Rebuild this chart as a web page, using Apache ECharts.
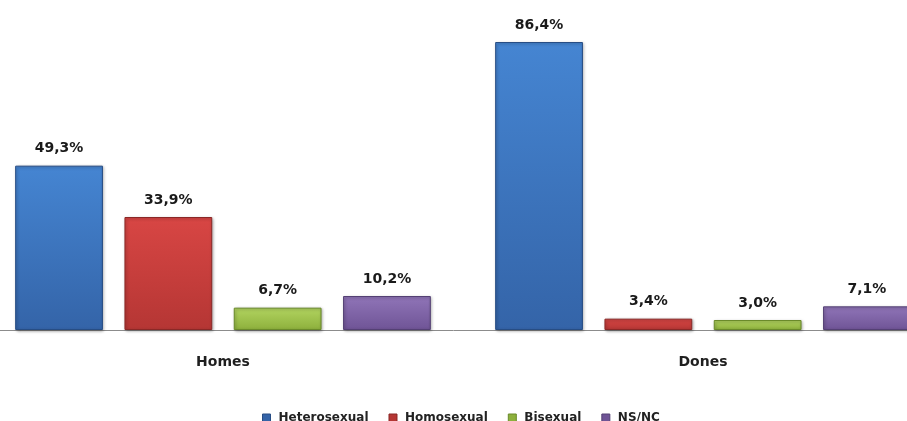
<!DOCTYPE html>
<html>
<head>
<meta charset="utf-8">
<script src="https://cdn.jsdelivr.net/npm/echarts@6/dist/echarts.min.js"></script>
<style>
  html, body { margin: 0; padding: 0; background: #fff; }
  #main { width: 907px; height: 421px; }
</style>
</head>
<body>
<div id="main"></div>
<script>
var categories = ['Homes', 'Dones'];
var seriesNames = ['Heterosexual', 'Homosexual', 'Bisexual', 'NS/NC'];
var heterosexual = [49.3, 86.4];
var homosexual = [33.9, 3.4];
var bisexual = [6.7, 3.0];
var nsnc = [10.2, 7.1];
var colors = [
  ['#4585d2', '#3464a8', '#274d84'],
  ['#d84644', '#b53634', '#8a2826'],
  ['#b2d460', '#8db03c', '#6a8a2a'],
  ['#9075b8', '#6f5496', '#544074']
];

function grad(c) {
  return new echarts.graphic.LinearGradient(0, 0, 0, 1, [
    { offset: 0, color: c[0] },
    { offset: 1, color: c[1] }
  ]);
}

function makeSeries(name, data, i) {
  return {
    name: name,
    type: 'bar',
    data: data,
    barGap: '24.5%',
    barCategoryGap: '13.4%',
    itemStyle: {
      color: grad(colors[i]),
      borderColor: colors[i][2],
      borderWidth: 1,
      shadowColor: 'rgba(0,0,0,0.35)',
      shadowBlur: 3,
      shadowOffsetX: 1,
      shadowOffsetY: 1
    },
    label: {
      show: true,
      position: 'top',
      distance: 10,
      fontFamily: 'DejaVu Sans',
      fontWeight: 'bold',
      fontSize: 14,
      color: '#1a1a1a',
      formatter: function (p) { return p.value.toFixed(1).replace('.', ',') + '%'; }
    }
  };
}

var chart = echarts.init(document.getElementById('main'));
chart.setOption({
  animation: false,
  grid: { left: -17, top: 30, width: 960, height: 300, containLabel: false, outerBoundsMode: 'none' },
  legend: {
    left: 257,
    top: 407,
    icon: 'rect',
    itemWidth: 8,
    itemHeight: 8,
    itemGap: 20,
    textStyle: {
      fontFamily: 'DejaVu Sans',
      fontWeight: 'bold',
      fontSize: 12,
      color: '#222',
      padding: [0, 0, 0, 3]
    },
    data: seriesNames.map(function (n, i) {
      return { name: n, itemStyle: { color: colors[i][1], borderColor: colors[i][2], borderWidth: 1 } };
    })
  },
  xAxis: {
    type: 'category',
    data: categories,
    axisTick: { show: false },
    axisLine: { lineStyle: { color: '#8c8c8c', width: 1 } },
    axisLabel: {
      margin: 25,
      fontFamily: 'DejaVu Sans',
      fontWeight: 'bold',
      fontSize: 14,
      color: '#1f1f1f'
    }
  },
  yAxis: {
    type: 'value',
    min: 0,
    max: 90,
    show: false,
    splitLine: { show: false }
  },
  series: [
    makeSeries(seriesNames[0], heterosexual, 0),
    makeSeries(seriesNames[1], homosexual, 1),
    makeSeries(seriesNames[2], bisexual, 2),
    makeSeries(seriesNames[3], nsnc, 3)
  ]
});
</script>
</body>
</html>
